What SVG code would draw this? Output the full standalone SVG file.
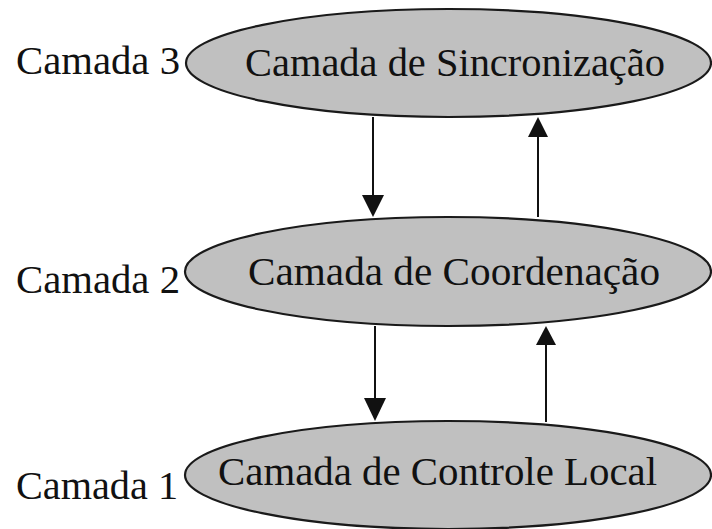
<svg xmlns="http://www.w3.org/2000/svg" width="712" height="529" viewBox="0 0 712 529">
<style>
.node{fill:#c0c0c0;stroke:#1a1a1a;stroke-width:2.2}
.t{font-family:"Liberation Serif","Times New Roman",serif;font-size:40px;fill:#111}
.c{stroke:#111;stroke-width:2;fill:none}
.h{fill:#111}
</style>
<rect width="712" height="529" fill="#fff"/>
<g id="connectors">
<line class="c" x1="373" y1="117" x2="373" y2="197"/>
<polygon class="h" points="362,195 384,195 373,217"/>
<line class="c" x1="538" y1="217" x2="538" y2="135"/>
<polygon class="h" points="528,137 548,137 538,117"/>
<line class="c" x1="375" y1="326" x2="375" y2="400"/>
<polygon class="h" points="364,398 386,398 375,421"/>
<line class="c" x1="546" y1="422" x2="546" y2="343"/>
<polygon class="h" points="536,345 556,345 546,326"/>
</g>
<g id="node3">
<ellipse class="node" cx="448.5" cy="63" rx="262.5" ry="54"/>
<text class="t" x="245" y="76" textLength="420" lengthAdjust="spacingAndGlyphs">Camada de Sincronização</text>
</g>
<g id="node2">
<ellipse class="node" cx="448" cy="271.5" rx="263" ry="54.5"/>
<text class="t" x="248" y="285" textLength="412" lengthAdjust="spacingAndGlyphs">Camada de Coordenação</text>
</g>
<g id="node1">
<ellipse class="node" cx="448" cy="475" rx="263" ry="54"/>
<text class="t" x="218" y="485" textLength="439" lengthAdjust="spacingAndGlyphs">Camada de Controle Local</text>
</g>
<g id="labels">
<text class="t" x="16" y="74" textLength="164" lengthAdjust="spacingAndGlyphs">Camada 3</text>
<text class="t" x="16" y="293" textLength="164" lengthAdjust="spacingAndGlyphs">Camada 2</text>
<text class="t" x="16" y="499" textLength="162" lengthAdjust="spacingAndGlyphs">Camada 1</text>
</g>
</svg>
